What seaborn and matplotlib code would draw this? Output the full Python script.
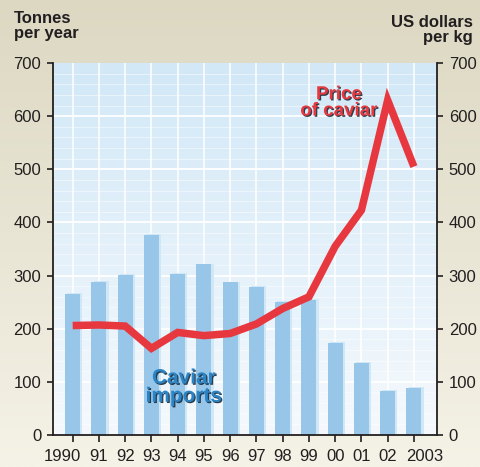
import numpy as np
import matplotlib
matplotlib.use("Agg")
import matplotlib.pyplot as plt
import matplotlib.patheffects as pe
import matplotlib.transforms as mtransforms
from matplotlib.colors import LinearSegmentedColormap
import seaborn as sns

# Data
years = ["1990", "91", "92", "93", "94", "95", "96", "97", "98", "99", "00", "01", "02", "2003"]
imports_tonnes = [265, 288, 301, 376, 303, 321, 287, 279, 251, 254, 174, 135, 83, 89]
price_usd_per_kg = [206, 207, 205, 163, 193, 187, 191, 209, 238, 260, 355, 423, 630, 505]

sns.set_theme(style="white")
plt.rcParams["font.family"] = ["Liberation Sans", "DejaVu Sans"]

BAR = "#97c6e8"
BAR_SHADE = "#d0e7f6"
RED = "#e8383f"
BLUE_TXT = "#2a84c6"
INK = "#231f20"

fig = plt.figure(figsize=(4.81, 4.67), dpi=100)

# page background: soft beige gradient
bg = fig.add_axes([0, 0, 1, 1], zorder=-10)
bg_cmap = LinearSegmentedColormap.from_list("bg", ["#dcd8c2", "#f5f2e7"])
bg.imshow(np.linspace(0, 1, 256).reshape(-1, 1), aspect="auto", cmap=bg_cmap,
          extent=[0, 1, 0, 1], origin="upper")
bg.set_axis_off()

ax = fig.add_axes([53 / 481, 1 - 435 / 467, 384 / 481, 372 / 467])
ax.set_facecolor("none")
pos = np.arange(len(years))
xlim = (-0.75, 13.88)
ylim = (0, 700)
ax.set_xlim(*xlim)
ax.set_ylim(*ylim)

# plot area: pale blue gradient
pa_cmap = LinearSegmentedColormap.from_list("pa", ["#d2e8f7", "#f5f9fd"])
ax.imshow(np.linspace(0, 1, 256).reshape(-1, 1), aspect="auto", cmap=pa_cmap,
          extent=[xlim[0], xlim[1], ylim[0], ylim[1]], origin="upper", zorder=0)

# grid
for y in range(20, 700, 20):
    if y % 100:
        ax.axhline(y, color="white", lw=0.6, alpha=0.55, zorder=0.5)
for y in range(100, 700, 100):
    ax.axhline(y, color="white", lw=1.3, zorder=0.6)
for x in pos:
    ax.axvline(x, color="white", lw=1.1, zorder=0.6)

# imports bars with a light offset edge
sns.barplot(x=pos, y=imports_tonnes, native_scale=True, width=0.57, color=BAR,
            saturation=1, ax=ax, zorder=2)
for p in ax.patches:
    p.set_linewidth(0)
    p.set_path_effects([pe.SimplePatchShadow(offset=(1.6, 0.6), shadow_rgbFace=BAR_SHADE, alpha=1),
                        pe.Normal()])
ax.set_xlim(*xlim)
ax.set_ylim(*ylim)

# price line on the right-hand scale
ax2 = ax.twinx()
sns.lineplot(x=pos, y=price_usd_per_kg, ax=ax2, color=RED, lw=5.4,
             solid_joinstyle="miter", solid_capstyle="butt", zorder=3)
ax2.set_ylim(*ylim)
ax2.set_xlim(*xlim)

# axes styling
for a in (ax, ax2):
    a.set_xlabel("")
    a.set_ylabel("")
    a.spines["top"].set_visible(False)
    for s in ("left", "right", "bottom"):
        a.spines[s].set_color(INK)
        a.spines[s].set_linewidth(1.3)
ax.spines["right"].set_visible(False)
ax2.spines["left"].set_visible(False)
ax2.spines["bottom"].set_visible(False)

yt = np.arange(0, 701, 100)
ax.set_yticks(yt)
ax.set_yticklabels([str(v) for v in yt])
ax2.set_yticks(yt)
ax2.set_yticklabels([str(v) for v in yt])
ax.set_xticks(pos)
ax.set_xticklabels(years)
ax.tick_params(axis="y", which="major", direction="out", length=4.5, width=1.2,
               color=INK, labelcolor=INK, labelsize=12, pad=4, left=True)
ax.tick_params(axis="x", which="major", direction="out", length=5, width=1.2,
               color=INK, labelcolor=INK, labelsize=12, pad=5, bottom=True)
ax2.tick_params(axis="y", which="major", direction="out", length=4.5, width=1.2,
                color=INK, labelcolor=INK, labelsize=12, pad=4, right=True)

# nudge the four-digit end labels outward so they clear their neighbours
xlabels = ax.get_xticklabels()
xlabels[0].set_transform(xlabels[0].get_transform()
                         + mtransforms.ScaledTranslation(-0.10, 0, fig.dpi_scale_trans))
xlabels[-1].set_transform(xlabels[-1].get_transform()
                          + mtransforms.ScaledTranslation(0.11, 0, fig.dpi_scale_trans))

# axis titles
fig.text(14 / 481, 1 - 11 / 467, "Tonnes\nper year", ha="left", va="top",
         fontsize=12, fontweight="bold", color=INK, linespacing=1.0)
fig.text(473 / 481, 1 - 15 / 467, "US dollars\nper kg", ha="right", va="top",
         fontsize=12, fontweight="bold", color=INK, linespacing=1.0, multialignment="right")

# series labels
shadow = [pe.withSimplePatchShadow(offset=(0.9, -0.9), shadow_rgbFace="#1b2b3a", alpha=0.9)]
ax.text(4.24, 90, "Caviar\nimports", ha="center", va="center", fontsize=15,
        fontweight="bold", color=BLUE_TXT, linespacing=0.95, zorder=5, path_effects=shadow)
ax2.text(10.14, 625, "Price\nof caviar", ha="center", va="center", fontsize=13.5,
         fontweight="bold", color=RED, linespacing=0.95, zorder=5, path_effects=shadow)

fig.savefig("out.png", dpi=100)
